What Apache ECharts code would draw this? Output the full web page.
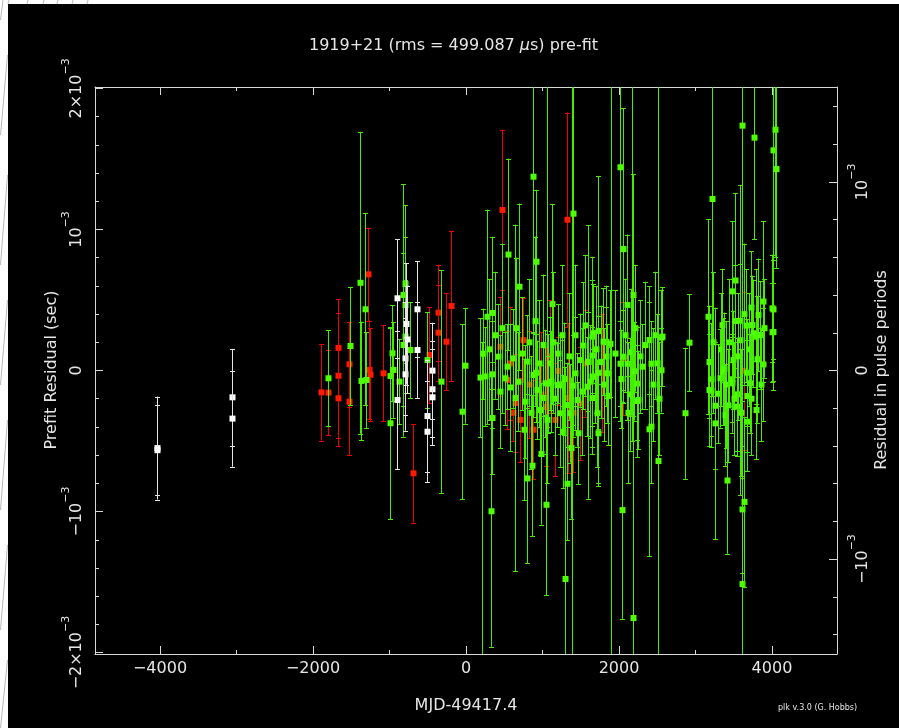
<!DOCTYPE html>
<html>
<head>
<meta charset="utf-8">
<title>1919+21 residuals</title>
<script src="https://cdn.jsdelivr.net/npm/echarts@6/dist/echarts.min.js"></script>
<style>
  html, body { margin: 0; padding: 0; background: #fff; width: 899px; height: 728px; overflow: hidden; }
  #edge { position: absolute; left: 0; top: 0; }
  #chart { position: absolute; left: 8px; top: 4px; width: 891px; height: 724px; background: #000; }
</style>
</head>
<body>
<svg id="edge" width="899" height="728">
  <g stroke="#b8b8b8" stroke-width="1" fill="none">
    <line x1="7.5" y1="55" x2="0.5" y2="135"/>
    <line x1="7.5" y1="175" x2="0.5" y2="265"/>
    <line x1="7.5" y1="300" x2="0.5" y2="385"/>
    <line x1="7.5" y1="420" x2="0.5" y2="510"/>
    <line x1="7.5" y1="545" x2="0.5" y2="630"/>
    <line x1="7.5" y1="660" x2="0.5" y2="728"/>
    <line x1="3" y1="0" x2="0.5" y2="20"/>
    <line x1="9" y1="0" x2="8" y2="4"/>
    <line x1="28" y1="0" x2="27" y2="4"/>
    <line x1="44" y1="0" x2="43" y2="4"/>
    <line x1="58" y1="0" x2="57" y2="4"/>
    <line x1="73" y1="0" x2="72" y2="4"/>
    <line x1="88" y1="0" x2="87" y2="4"/>
  </g>
</svg>
<div id="chart"></div>
<script>
// Rotation period of PSR B1919+21 in seconds (converts residuals to pulse periods)
const PERIOD = 1.3373;

// Residual limits (microseconds) and MJD offset range
const X_MIN = -4850, X_MAX = 4850;
const Y_LIM = 2010;

// Tick positions
const xMajorTicks = [-4000, -2000, 0, 2000, 4000];
const xMinorTicks = [-3000, -1000, 1000, 3000];
const yMajorTicks = [-2000, -1000, 0, 1000, 2000];
const yMinorTicks = [-1800, -1600, -1400, -1200, -800, -600, -400, -200, 200, 400, 600, 800, 1200, 1400, 1600, 1800];
const pMajorTicks = [-1000, 0, 1000];
const pMinorTicks = [-1400, -1200, -800, -600, -400, -200, 200, 400, 600, 800, 1200, 1400];

// TOAs: [MJD - 49417.4, residual (us), uncertainty (us)]
const whitePts = [
  [-4043, -550, 365], [-4043, -565, 320],
  [-3055, -190, 343], [-3055, -341, 341],
  [-906, 512, 420], [-906, -209, 490],
  [-797, 86, 400], [-797, -27, 400], [-790, 330, 430], [-770, 220, 380],
  [-644, 434, 340], [-644, 145, 340],
  [-514, -323, 400], [-514, -434, 360],
  [-448, -1, 340], [-448, -133, 340], [-448, -190, 340]
];

const redPts = [
  [-1899, -155, 343], [-1800, -157, 300],
  [-1677, 160, 345], [-1677, -37, 445], [-1677, -197, 340],
  [-1529, 44, 300], [-1529, -221, 380],
  [-1277, 682, 330], [-1264, 4, 350], [-1250, -30, 330],
  [-1081, -20, 340], [-697, -729, 349], [-490, 110, 340],
  [-366, 410, 340], [-366, 268, 340], [-266, 204, 345], [-192, 457, 534],
  [466, 1138, 564], [449, 169, 350], [536, -67, 350], [580, 50, 400],
  [620, -300, 200], [640, -230, 350], [700, -350, 300], [749, 215, 300],
  [820, -100, 380], [880, -420, 350], [985, -169, 440], [1046, -259, 420],
  [1100, 100, 400], [1160, -350, 400], [1207, -4, 240], [1316, 1069, 760],
  [1330, -195, 530], [1400, -300, 420], [1490, -234, 400], [1550, 50, 380],
  [1773, -16, 420], [2056, 86, 400], [3630, -4, 560]
];

const greenPts = [
  [-1800, -55, 340], [-1516, 174, 420], [-1385, 622, 1070], [-1372, -74, 420],
  [-1320, 434, 680], [-1307, -67, 340], [-993, -39, 340], [-993, -374, 680],
  [-967, 122, 340], [-955, 4, 340], [-880, -79, 300], [-827, 535, 785],
  [-827, 181, 650], [-797, 613, 560], [-797, 464, 480], [-797, 240, 400],
  [-732, 145, 340], [-514, 74, 340], [-327, -79, 790], [-57, -292, 620],
  [-17, 34, 410],
  [180, -50, 420], [205, -2300, 2500], [226, 119, 320], [248, -42, 350],
  [270, 381, 760], [300, 150, 500], [327, -998, 960], [336, 408, 540],
  [336, -27, 380], [336, -337, 400], [380, 250, 450], [414, 98, 370],
  [450, -150, 400], [470, 300, 600], [510, -55, 330], [532, 27, 300],
  [553, 822, 680], [580, -120, 450], [610, 86, 350], [640, -195, 1230],
  [650, 300, 500], [680, -80, 350], [697, 594, 590], [730, 120, 400],
  [760, -420, 500], [771, -221, 400], [793, -765, 600], [793, 63, 330],
  [820, 200, 450], [850, -300, 400], [858, -675, 500], [880, 1374, 1100],
  [880, -32, 300], [900, 350, 600], [915, 771, 510], [920, -16, 350],
  [924, -138, 350], [950, 50, 450], [967, -280, 320], [981, -592, 500],
  [1003, -195, 400], [1010, 180, 500], [1032, -91, 380], [1046, -952, 640],
  [1054, 2300, 2700], [1060, -350, 450], [1077, -93, 350], [1098, 51, 330],
  [1107, -79, 360], [1120, 471, 710], [1140, 200, 500], [1160, -200, 400],
  [1185, -103, 300], [1200, 120, 350], [1229, -98, 350], [1229, -303, 380],
  [1250, -106, 320], [1260, 250, 500], [1272, -434, 400], [1280, -60, 400],
  [1294, -1478, 1500], [1320, -803, 400], [1320, -245, 300], [1340, 100, 450],
  [1359, -303, 350], [1370, -550, 500], [1390, -2500, 4600], [1403, 1112, 1500],
  [1403, -108, 360], [1420, 250, 500], [1430, -20, 400], [1447, -209, 330],
  [1468, -445, 360], [1490, 74, 330], [1510, -150, 450], [1533, 177, 450],
  [1550, 320, 500], [1577, -115, 350], [1594, 60, 970], [1599, 63, 350],
  [1620, -80, 400], [1643, 240, 400], [1643, -42, 350], [1643, -195, 350],
  [1650, 106, 700], [1664, 264, 350], [1686, -44, 330], [1700, 150, 450],
  [1708, -303, 380], [1729, 280, 1100], [1729, -16, 400], [1729, -445, 350],
  [1760, 60, 400], [1795, 204, 380], [1800, -100, 400], [1830, 202, 400],
  [1830, 99, 350], [1838, -20, 350], [1860, -180, 350], [1882, 189, 380],
  [1891, 2600, 4800], [1950, 120, 450], [2013, 1441, 1800], [2013, 48, 300],
  [2030, -60, 350], [2043, -990, 770], [2056, 861, 1000], [2056, 98, 330],
  [2080, 250, 400], [2100, 464, 500], [2100, 48, 400], [2120, -300, 500],
  [2143, -169, 400], [2160, 130, 450], [2174, 2500, 3000], [2187, 535, 860],
  [2187, -1755, 2000], [2196, -5, 350], [2210, 300, 450], [2230, -93, 400],
  [2230, -216, 400], [2252, -209, 350], [2270, 100, 400], [2296, 27, 300],
  [2340, 180, 450], [2396, 216, 380], [2396, -417, 900], [2418, 48, 300],
  [2418, -398, 400], [2440, -100, 400], [2470, 250, 450], [2492, 51, 350],
  [2505, -642, 2700], [2520, -200, 400], [2544, 233, 340], [2553, 2, 300],
  [2558, 240, 350], [2866, -303, 465], [2910, 197, 345],
  [3167, 381, 690], [3180, -138, 400], [3180, 60, 400], [3198, -62, 400],
  [3200, -144, 400], [3219, 1216, 1400], [3230, 200, 500], [3250, -250, 450],
  [3259, -375, 820], [3298, -165, 350], [3320, -55, 350], [3330, 150, 400],
  [3350, 322, 400], [3363, -8, 380], [3376, 11, 400], [3385, -316, 360],
  [3400, -100, 450], [3407, -780, 520], [3420, -247, 400], [3440, 200, 450],
  [3472, 561, 500], [3472, -62, 300], [3472, -91, 350], [3494, 74, 350],
  [3500, -200, 400], [3516, 638, 620], [3516, 351, 400], [3538, -169, 400],
  [3538, -256, 350], [3560, 100, 450], [3581, 215, 1100], [3581, 353, 400],
  [3600, -300, 450], [3603, -985, 450], [3611, 1736, 2500], [3612, -1514, 1300],
  [3630, 400, 500], [3634, -932, 600], [3655, 318, 400], [3668, -363, 350],
  [3676, -16, 380], [3676, -181, 400], [3700, 150, 400], [3712, -91, 350],
  [3720, 446, 400], [3730, -200, 400], [3740, 322, 350], [3755, 264, 380],
  [3768, 1651, 720], [3786, 240, 480], [3786, -280, 350], [3800, 80, 450],
  [3820, 394, 400], [3843, 252, 380], [3850, -100, 400], [3878, 489, 570],
  [3878, 43, 400], [3900, 300, 350], [3995, 441, 380], [3995, 271, 350],
  [4017, 433, 350], [4017, 273, 350], [4017, 1561, 1700], [4039, 1707, 900],
  [4052, 1428, 700]
];

function errorBarRenderer(lineColor, markColor) {
  return function (params, api) {
    const x = api.value(0), y = api.value(1), e = api.value(2);
    const c = api.coord([x, y]);
    const top = api.coord([x, y + e])[1];
    const bot = api.coord([x, y - e])[1];
    const px = Math.round(c[0]) + 0.5;
    const cap = 2.5, s = 3;
    const lineStyle = { stroke: lineColor, lineWidth: 1 };
    return {
      type: 'group',
      children: [
        { type: 'line', shape: { x1: px, y1: top, x2: px, y2: bot }, style: lineStyle },
        { type: 'line', shape: { x1: px - cap, y1: Math.round(top) + 0.5, x2: px + cap, y2: Math.round(top) + 0.5 }, style: lineStyle },
        { type: 'line', shape: { x1: px - cap, y1: Math.round(bot) + 0.5, x2: px + cap, y2: Math.round(bot) + 0.5 }, style: lineStyle },
        { type: 'rect', shape: { x: px - s, y: c[1] - s, width: 2 * s, height: 2 * s }, style: { fill: markColor } }
      ]
    };
  };
}

const FONT = 'DejaVu Sans';
const TXT = '#e6e6e6';
const AX = '#d8d8d8';

const powRich = {
  b: { fontFamily: FONT, fontSize: 16, color: TXT, lineHeight: 24, verticalAlign: 'bottom' },
  s: { fontFamily: FONT, fontSize: 11, color: TXT, lineHeight: 24, verticalAlign: 'top' }
};

function secLabel(v) {
  if (v === 0) return '{b|0}';
  const sign = v < 0 ? '\u2212' : '';
  const m = Math.abs(v) / 1000;
  return m === 1 ? '{b|' + sign + '10}{s|\u22123}' : '{b|' + sign + m + '\u00d710}{s|\u22123}';
}

function tickAxisX(pos, ticks, len, withLine, withLabels) {
  return {
    type: 'value', position: pos, min: X_MIN, max: X_MAX,
    axisLine: { show: withLine, onZero: false, lineStyle: { color: AX, width: 1 } },
    axisTick: { show: true, inside: true, length: len, customValues: ticks, lineStyle: { color: AX, width: 1 } },
    axisLabel: withLabels ? {
      show: true, customValues: ticks, margin: 7, color: TXT, fontFamily: FONT, fontSize: 16,
      formatter: v => (v < 0 ? '\u2212' + Math.abs(v) : String(v))
    } : { show: false },
    splitLine: { show: false }
  };
}

function tickAxisY(pos, lim, ticks, len, withLine, labelFn) {
  return {
    type: 'value', position: pos, min: -lim, max: lim,
    axisLine: { show: withLine, onZero: false, lineStyle: { color: AX, width: 1 } },
    axisTick: { show: true, inside: true, length: len, customValues: ticks, lineStyle: { color: AX, width: 1 } },
    axisLabel: labelFn ? {
      show: true, customValues: ticks, rotate: 90, margin: 10, formatter: labelFn, rich: powRich
    } : { show: false },
    splitLine: { show: false }
  };
}

const chart = echarts.init(document.getElementById('chart'), null, { renderer: 'canvas' });

chart.setOption({
  backgroundColor: '#000',
  animation: false,
  grid: { left: 87, right: 62, top: 83, bottom: 74, containLabel: false },
  xAxis: [
    tickAxisX('bottom', xMajorTicks, 8, true, true),
    tickAxisX('bottom', xMinorTicks, 4, false, false),
    tickAxisX('top', xMajorTicks, 8, true, false),
    tickAxisX('top', xMinorTicks, 4, false, false)
  ],
  yAxis: [
    tickAxisY('left', Y_LIM, yMajorTicks, 8, true, secLabel),
    tickAxisY('left', Y_LIM, yMinorTicks, 4, false, null),
    tickAxisY('right', Y_LIM / PERIOD, pMajorTicks, 8, true, secLabel),
    tickAxisY('right', Y_LIM / PERIOD, pMinorTicks, 4, false, null)
  ],
  graphic: [
    {
      type: 'text', left: 'center', top: 34,
      style: {
        text: '1919+21 (rms = 499.087 {i|\u03bc}s) pre-fit',
        fill: TXT, font: '16px "DejaVu Sans"',
        rich: { i: { fontFamily: FONT, fontSize: 16, fontStyle: 'italic', fill: TXT } }
      }
    },
    {
      type: 'text', x: 458, y: 702,
      style: { text: 'MJD-49417.4', fill: TXT, font: '16px "DejaVu Sans"', align: 'center', verticalAlign: 'middle' }
    },
    {
      type: 'text', x: 44, y: 366, rotation: Math.PI / 2,
      style: { text: 'Prefit Residual (sec)', fill: TXT, font: '16px "DejaVu Sans"', align: 'center', verticalAlign: 'middle' }
    },
    {
      type: 'text', x: 874, y: 366, rotation: Math.PI / 2,
      style: { text: 'Residual in pulse periods', fill: TXT, font: '16px "DejaVu Sans"', align: 'center', verticalAlign: 'middle' }
    },
    {
      type: 'text', x: 770, y: 704,
      style: { text: 'plk v.3.0 (G. Hobbs)', fill: TXT, font: '8px "DejaVu Sans"', align: 'left', verticalAlign: 'middle' }
    }
  ],
  series: [
    {
      name: 'red', type: 'custom', clip: true, z: 2,
      renderItem: errorBarRenderer('#f00000', '#ff1a00'), data: redPts
    },
    {
      name: 'green', type: 'custom', clip: true, z: 3,
      renderItem: errorBarRenderer('#44ec00', '#4dff00'), data: greenPts
    },
    {
      name: 'white', type: 'custom', clip: true, z: 4,
      renderItem: errorBarRenderer('#e4e4e4', '#ffffff'), data: whitePts
    }
  ]
});
</script>
</body>
</html>
